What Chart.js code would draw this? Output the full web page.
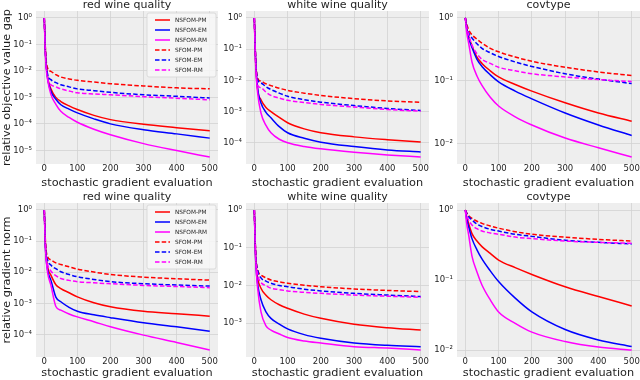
<!DOCTYPE html>
<html>
<head>
<meta charset="utf-8">
<script src="https://cdn.jsdelivr.net/npm/chart.js@4.4.1/dist/chart.umd.min.js"></script>
<style>
  body { margin: 0; background: #fff; }
  #fig { position: relative; width: 640px; height: 380px; overflow: hidden; }
  #fig canvas { position: absolute; }
</style>
</head>
<body>
<div id="fig"></div>
<script>
// x: stochastic gradient evaluations
const evals = [0, 4, 10, 20, 35, 50, 75, 100, 150, 200, 300, 400, 500];
const xTicks = [0, 100, 200, 300, 400, 500];
const methods = ['NSFOM-PM', 'NSFOM-EM', 'NSFOM-RM', 'SFOM-PM', 'SFOM-EM', 'SFOM-RM'];

// relative objective value gap (rows in order of methods)
const redWineGap = [
  [1, 0.04, 6e-3, 2.1e-3, 1.0e-3, 7e-4, 4.8e-4, 3.5e-4, 2.1e-4, 1.45e-4, 9.6e-5, 7.2e-5, 5.5e-5],
  [1, 0.035, 5.5e-3, 1.7e-3, 8.5e-4, 5.3e-4, 3.6e-4, 2.6e-4, 1.55e-4, 1.0e-4, 6.0e-5, 4.2e-5, 2.9e-5],
  [1, 0.03, 5e-3, 1.3e-3, 5.5e-4, 3.0e-4, 1.75e-4, 1.15e-4, 6.3e-5, 3.9e-5, 1.8e-5, 9.8e-6, 5.6e-6],
  [1, 0.05, 1.3e-2, 9.6e-3, 7.2e-3, 5.9e-3, 5.0e-3, 4.4e-3, 3.8e-3, 3.3e-3, 2.7e-3, 2.3e-3, 2.1e-3],
  [1, 0.04, 7.5e-3, 4.7e-3, 3.6e-3, 3.0e-3, 2.5e-3, 2.1e-3, 1.8e-3, 1.55e-3, 1.26e-3, 1.1e-3, 9.5e-4],
  [1, 0.03, 5e-3, 3.0e-3, 2.5e-3, 2.1e-3, 1.75e-3, 1.5e-3, 1.35e-3, 1.26e-3, 1.07e-3, 9.3e-4, 8.1e-4]
];
const whiteWineGap = [
  [1, 0.04, 5e-3, 2.4e-3, 1.35e-3, 1.0e-3, 6.5e-4, 4.4e-4, 2.8e-4, 2.1e-4, 1.55e-4, 1.26e-4, 1.07e-4],
  [1, 0.04, 5.5e-3, 1.9e-3, 9.5e-4, 6.3e-4, 3.3e-4, 2.1e-4, 1.4e-4, 1.05e-4, 7.6e-5, 5.9e-5, 5.1e-5],
  [1, 0.03, 4e-3, 9e-4, 3.6e-4, 2.1e-4, 1.3e-4, 1.0e-4, 7.6e-5, 6.4e-5, 5.0e-5, 4.1e-5, 3.5e-5],
  [1, 0.05, 1.2e-2, 9.4e-3, 7.8e-3, 6.8e-3, 5.6e-3, 4.8e-3, 3.9e-3, 3.3e-3, 2.6e-3, 2.2e-3, 2.0e-3],
  [1, 0.05, 1.05e-2, 8.3e-3, 6.3e-3, 5.1e-3, 3.9e-3, 3.1e-3, 2.4e-3, 2.0e-3, 1.56e-3, 1.26e-3, 1.08e-3],
  [1, 0.04, 7e-3, 5.8e-3, 4.2e-3, 3.3e-3, 2.7e-3, 2.3e-3, 1.95e-3, 1.7e-3, 1.4e-3, 1.17e-3, 1.03e-3]
];
const covtypeGap = [
  [1, 0.7, 0.51, 0.36, 0.24, 0.19, 0.145, 0.116, 0.088, 0.069, 0.045, 0.031, 0.023],
  [1, 0.68, 0.48, 0.34, 0.22, 0.17, 0.125, 0.097, 0.069, 0.052, 0.031, 0.020, 0.0136],
  [1, 0.6, 0.40, 0.2, 0.12, 0.085, 0.055, 0.04, 0.027, 0.020, 0.0124, 0.0087, 0.0062],
  [1, 0.8, 0.65, 0.54, 0.46, 0.40, 0.33, 0.29, 0.24, 0.205, 0.165, 0.139, 0.122],
  [1, 0.75, 0.58, 0.48, 0.39, 0.33, 0.28, 0.245, 0.2, 0.17, 0.13, 0.107, 0.091],
  [1, 0.72, 0.54, 0.37, 0.27, 0.22, 0.19, 0.165, 0.145, 0.13, 0.116, 0.105, 0.098]
];

// relative gradient norm
const redWineGrad = [
  [1, 0.06, 1.5e-2, 8.1e-3, 4.0e-3, 3.0e-3, 2.2e-3, 1.63e-3, 1.05e-3, 7.8e-4, 5.6e-4, 4.7e-4, 3.9e-4],
  [1, 0.05, 1.2e-2, 5.6e-3, 1.6e-3, 1.13e-3, 7.5e-4, 5.6e-4, 4.3e-4, 3.5e-4, 2.4e-4, 1.78e-4, 1.29e-4],
  [1, 0.05, 1.0e-2, 3.9e-3, 8e-4, 6.1e-4, 4.6e-4, 3.7e-4, 2.6e-4, 1.78e-4, 9.6e-5, 5.6e-5, 3.2e-5],
  [1, 0.08, 3.2e-2, 2.5e-2, 2.0e-2, 1.78e-2, 1.5e-2, 1.27e-2, 1.02e-2, 8.5e-3, 7.0e-3, 6.2e-3, 5.6e-3],
  [1, 0.06, 2.5e-2, 1.7e-2, 1.3e-2, 1.04e-2, 8.5e-3, 7.2e-3, 5.9e-3, 5.0e-3, 4.3e-3, 3.9e-3, 3.6e-3],
  [1, 0.05, 1.8e-2, 1.1e-2, 7.8e-3, 6.3e-3, 5.5e-3, 5.0e-3, 4.6e-3, 4.3e-3, 3.8e-3, 3.5e-3, 3.2e-3]
];
const whiteWineGrad = [
  [1, 0.06, 1.6e-2, 8.5e-3, 5.5e-3, 4.2e-3, 3.1e-3, 2.5e-3, 1.75e-3, 1.35e-3, 9.4e-4, 7.6e-4, 6.6e-4],
  [1, 0.05, 1.1e-2, 4.2e-3, 2.0e-3, 1.35e-3, 9.5e-4, 7.1e-4, 5.0e-4, 4.0e-4, 3.0e-4, 2.6e-4, 2.4e-4],
  [1, 0.05, 8.5e-3, 2.0e-3, 8.5e-4, 6.6e-4, 5.2e-4, 4.2e-4, 3.4e-4, 3.0e-4, 2.4e-4, 2.2e-4, 1.96e-4],
  [1, 0.08, 2.6e-2, 1.9e-2, 1.6e-2, 1.4e-2, 1.25e-2, 1.15e-2, 1.02e-2, 9.3e-3, 8.1e-3, 7.4e-3, 6.9e-3],
  [1, 0.07, 2.5e-2, 1.6e-2, 1.3e-2, 1.15e-2, 1.0e-2, 9.3e-3, 8.0e-3, 7.2e-3, 6.2e-3, 5.6e-3, 5.1e-3],
  [1, 0.06, 2.0e-2, 1.2e-2, 1.0e-2, 8.5e-3, 7.8e-3, 7.2e-3, 6.6e-3, 6.2e-3, 5.6e-3, 5.2e-3, 4.9e-3]
];
const covtypeGrad = [
  [1, 0.8, 0.64, 0.46, 0.36, 0.30, 0.24, 0.193, 0.15, 0.12, 0.080, 0.058, 0.0426],
  [1, 0.75, 0.58, 0.39, 0.27, 0.20, 0.135, 0.095, 0.055, 0.035, 0.0196, 0.0139, 0.0112],
  [1, 0.65, 0.44, 0.22, 0.13, 0.085, 0.052, 0.035, 0.024, 0.018, 0.0132, 0.011, 0.0100],
  [1, 0.92, 0.83, 0.76, 0.69, 0.645, 0.59, 0.55, 0.49, 0.45, 0.41, 0.38, 0.36],
  [1, 0.9, 0.80, 0.72, 0.63, 0.58, 0.53, 0.50, 0.45, 0.42, 0.37, 0.345, 0.327],
  [1, 0.85, 0.72, 0.61, 0.54, 0.50, 0.47, 0.45, 0.41, 0.39, 0.36, 0.345, 0.334]
];

const lineColors = ['#ff0000', '#0000ff', '#ff00ff'];
const FONT = 'DejaVu Sans';
const TXT = '#1e1e1e';

// where each panel goes: [canvas left, canvas width, y axis width, right pad]
const cols = [[0, 220, 36, 2], [220, 212, 26, 3], [432, 208, 25, 0]];
// [canvas top, title pad top, title line height, x axis height, x title pad bottom]
const rows = [[0, 0, 11, 26, 0], [190, 2, 11, 23, 0]];

const panels = [
  { title: 'red wine quality', series: redWineGap, ylabel: 'relative objective value gap', legend: true },
  { title: 'white wine quality', series: whiteWineGap },
  { title: 'covtype', series: covtypeGap },
  { title: 'red wine quality', series: redWineGrad, ylabel: 'relative gradient norm', legend: true },
  { title: 'white wine quality', series: whiteWineGrad },
  { title: 'covtype', series: covtypeGrad }
];

const supMap = { '-': '\u207B', '0': '\u2070', '1': '\u00B9', '2': '\u00B2', '3': '\u00B3', '4': '\u2074', '5': '\u2075', '6': '\u2076' };
function powLabel(v) {
  const e = String(Math.round(Math.log10(v)));
  return '10' + e.split('').map(c => supMap[c]).join('');
}

// grey plot background like matplotlib bmh
const plotBg = {
  id: 'plotBg',
  beforeDraw(chart) {
    const { ctx, chartArea: a } = chart;
    ctx.save();
    ctx.fillStyle = '#eeeeee';
    ctx.fillRect(a.left, a.top, a.right - a.left, a.bottom - a.top);
    ctx.restore();
  }
};

// legend box inside the plot, upper right
const innerLegend = {
  id: 'innerLegend',
  afterDatasetsDraw(chart, args, opts) {
    if (!opts.display) return;
    const { ctx, chartArea } = chart;
    const ds = chart.data.datasets;
    const right = chartArea.right - 2, left = right - 69, top = chartArea.top + 2;
    const rowH = 10;
    ctx.save();
    ctx.fillStyle = 'rgba(246,246,246,0.9)';
    ctx.strokeStyle = '#d4d4d4';
    ctx.lineWidth = 0.8;
    ctx.beginPath();
    ctx.roundRect(left, top, right - left, ds.length * rowH + 4, 2);
    ctx.fill();
    ctx.stroke();
    ds.forEach((d, i) => {
      const y = top + 7 + i * rowH;
      ctx.strokeStyle = d.borderColor;
      ctx.lineWidth = d.borderWidth;
      ctx.setLineDash(d.borderDash || []);
      ctx.beginPath();
      ctx.moveTo(left + 8, y);
      ctx.lineTo(left + 23, y);
      ctx.stroke();
      ctx.setLineDash([]);
      ctx.fillStyle = TXT;
      ctx.font = '5.8px "' + FONT + '"';
      ctx.textBaseline = 'middle';
      ctx.textAlign = 'left';
      ctx.fillText(d.label, left + 28, y);
    });
    ctx.restore();
  }
};

const fig = document.getElementById('fig');

panels.forEach((p, k) => {
  const [cLeft, cW, yW, padR] = cols[k % 3];
  const [cTop, tPad, tLine, xH, xPadB] = rows[Math.floor(k / 3)];
  const cv = document.createElement('canvas');
  cv.width = cW;
  cv.height = 190;
  cv.style.left = cLeft + 'px';
  cv.style.top = cTop + 'px';
  fig.appendChild(cv);

  // y limits: data range in log space plus 5% margin
  const all = p.series.flat();
  const lo = Math.log10(Math.min(...all)), hi = Math.log10(Math.max(...all));
  const m = 0.05 * (hi - lo);
  const yMin = Math.pow(10, lo - m), yMax = Math.pow(10, hi + m);
  const decades = [];
  for (let e = Math.ceil(lo - m); e <= Math.floor(hi + m); e++) decades.push(Math.pow(10, e));

  const datasets = p.series.map((vals, i) => ({
    label: methods[i],
    data: evals.map((x, j) => ({ x: x, y: vals[j] })),
    borderColor: lineColors[i % 3],
    borderWidth: 1.5,
    borderDash: i >= 3 ? [4.5, 2.2] : [],
    pointRadius: 0,
    fill: false,
    cubicInterpolationMode: 'monotone',
    order: 6 - i
  }));

  new Chart(cv, {
    type: 'line',
    data: { datasets },
    options: {
      responsive: false,
      animation: false,
      layout: { padding: { left: 0, right: padR, top: 0, bottom: 0 } },
      plugins: {
        legend: { display: false },
        tooltip: { enabled: false },
        title: {
          display: true,
          text: p.title,
          fullSize: false,
          color: TXT,
          font: { family: FONT, size: 11, weight: 'normal', lineHeight: tLine + 'px' },
          padding: { top: tPad, bottom: 0 }
        },
        innerLegend: { display: !!p.legend }
      },
      scales: {
        x: {
          type: 'linear',
          min: -25,
          max: 525,
          afterBuildTicks: s => { s.ticks = xTicks.map(v => ({ value: v })); },
          afterFit: s => { s.height = xH; },
          grid: { color: '#d2d2d2', lineWidth: 0.8, drawTicks: false },
          border: { display: false },
          ticks: { color: TXT, font: { family: FONT, size: 8.5 }, padding: 0, autoSkip: false, maxRotation: 0 },
          title: {
            display: true,
            text: 'stochastic gradient evaluation',
            color: TXT,
            font: { family: FONT, size: 11.3 },
            padding: { top: 0, bottom: xPadB }
          }
        },
        y: {
          type: 'logarithmic',
          min: yMin,
          max: yMax,
          afterBuildTicks: s => { s.ticks = decades.map(v => ({ value: v })); },
          afterFit: s => { s.width = yW; },
          grid: { color: '#d2d2d2', lineWidth: 0.8, drawTicks: false },
          border: { display: false },
          ticks: { color: TXT, font: { family: FONT, size: 8.5 }, padding: 4, autoSkip: false, callback: v => powLabel(v) },
          title: {
            display: !!p.ylabel,
            text: p.ylabel || '',
            color: TXT,
            font: { family: FONT, size: 11.3 },
            padding: { top: 0, bottom: 0 }
          }
        }
      }
    },
    plugins: [plotBg, innerLegend]
  });
});
</script>
</body>
</html>
